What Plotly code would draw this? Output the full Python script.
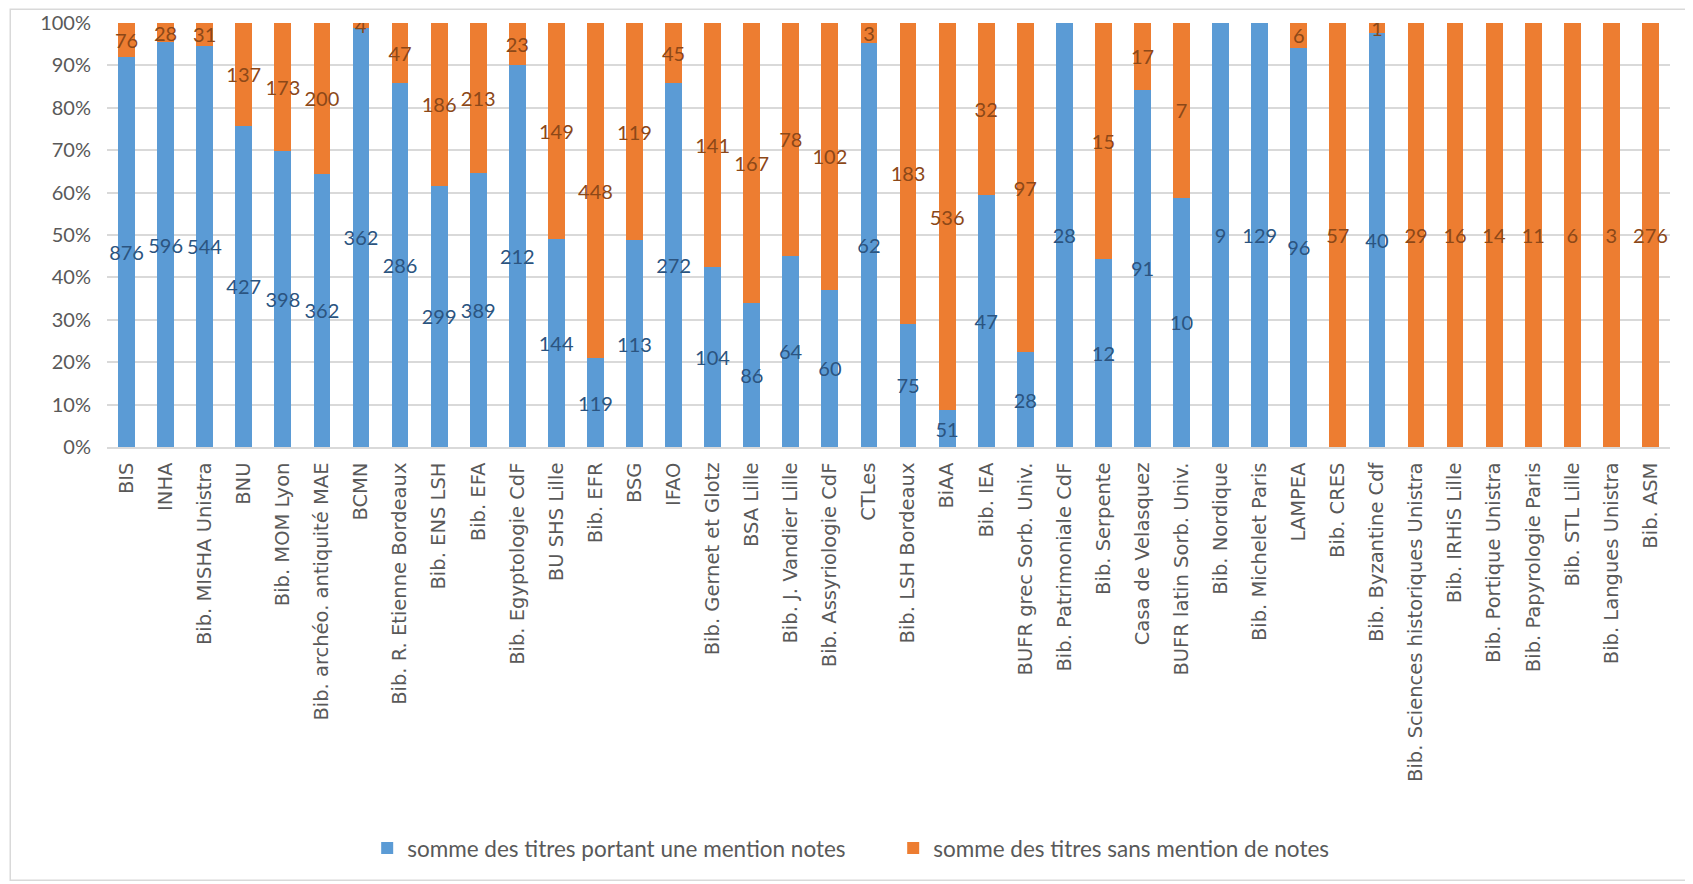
import plotly.graph_objects as go

# Bibliothèques (ordre du graphique)
libraries = [
    "BIS", "INHA", "Bib. MISHA Unistra", "BNU", "Bib. MOM Lyon",
    "Bib. archéo. antiquité MAE", "BCMN", "Bib. R. Etienne Bordeaux", "Bib. ENS LSH", "Bib. EFA",
    "Bib. Egyptologie CdF", "BU SHS Lille", "Bib. EFR", "BSG", "IFAO",
    "Bib. Gernet et Glotz", "BSA Lille", "Bib. J. Vandier Lille", "Bib. Assyriologie CdF", "CTLes",
    "Bib. LSH Bordeaux", "BiAA", "Bib. IEA", "BUFR grec Sorb. Univ.", "Bib. Patrimoniale CdF",
    "Bib. Serpente", "Casa de Velasquez", "BUFR latin Sorb. Univ.", "Bib. Nordique", "Bib. Michelet Paris",
    "LAMPEA", "Bib. CRES", "Bib. Byzantine Cdf", "Bib. Sciences historiques Unistra", "Bib. IRHiS Lille",
    "Bib. Portique Unistra", "Bib. Papyrologie Paris", "Bib. STL Lille", "Bib. Langues Unistra", "Bib. ASM",
]

# somme des titres portant une mention notes
with_notes = [
    876, 596, 544, 427, 398,
    362, 362, 286, 299, 389,
    212, 144, 119, 113, 272,
    104, 86, 64, 60, 62,
    75, 51, 47, 28, 28,
    12, 91, 10, 9, 129,
    96, 0, 40, 0, 0,
    0, 0, 0, 0, 0,
]

# somme des titres sans mention de notes
without_notes = [
    76, 28, 31, 137, 173,
    200, 4, 47, 186, 213,
    23, 149, 448, 119, 45,
    141, 167, 78, 102, 3,
    183, 536, 32, 97, 0,
    15, 17, 7, 0, 0,
    6, 57, 1, 29, 16,
    14, 11, 6, 3, 276,
]

y_ticks = [0, 10, 20, 30, 40, 50, 60, 70, 80, 90, 100]

fig = go.Figure()
for vals, name, color, label_color in [
    (with_notes, "somme des titres portant une mention notes", "#5B9BD5", "#2B5480"),
    (without_notes, "somme des titres sans mention de notes", "#ED7D31", "#8C4818"),
]:
    fig.add_trace(
        go.Bar(
            x=libraries,
            y=vals,
            name=name,
            marker=dict(color=color, line=dict(width=0)),
            text=[str(v) if v else "" for v in vals],
            textposition="inside",
            insidetextanchor="middle",
            textangle=0,
            constraintext="none",
            textfont=dict(family="Lato", size=20, color=label_color),
        )
    )

# Cadre gris autour du graphique
fig.add_shape(
    type="rect", xref="paper", yref="paper",
    x0=-0.0619, x1=1.0128, y0=-1.0219, y1=1.0323,
    line=dict(color="#D9D9D9", width=1.5), layer="below",
)

fig.update_layout(
    width=1693,
    height=884,
    barmode="stack",
    barnorm="percent",
    bargap=0.57,
    plot_bgcolor="white",
    paper_bgcolor="white",
    margin=dict(l=99, r=31, t=15, b=445),
    font=dict(family="Lato", color="#595959"),
    xaxis=dict(
        tickangle=-90,
        tickfont=dict(family="DejaVu Sans", size=19.5, color="#595959"),
        ticklabelstandoff=6,
        showgrid=False,
        showline=True,
        linecolor="#D9D9D9",
        linewidth=1.5,
        ticks="",
        automargin=False,
    ),
    yaxis=dict(
        range=[0, 100],
        tickvals=y_ticks,
        ticktext=[f"{v}%" for v in y_ticks],
        tickfont=dict(family="Lato", size=20, color="#595959"),
        ticklabelstandoff=15,
        showgrid=True,
        gridcolor="#D9D9D9",
        gridwidth=1.5,
        zeroline=False,
        ticks="",
        automargin=False,
    ),
    legend=dict(
        orientation="h",
        traceorder="normal",
        x=0.503,
        xanchor="center",
        y=-0.9465,
        yanchor="middle",
        entrywidth=481,
        itemwidth=30,
        font=dict(family="Lato", size=22.5, color="#595959"),
    ),
)

fig.write_html("out.html")
